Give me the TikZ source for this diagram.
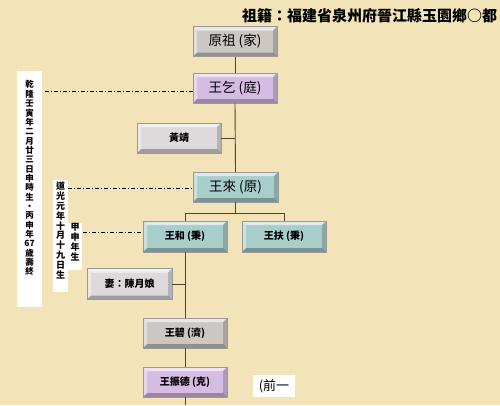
\documentclass[tikz,border=0pt]{standalone}
\usepackage{fontspec}
\newfontfamily\cjk{Noto Sans CJK TC}
\definecolor{bg}{RGB}{242,228,184}
\definecolor{grayface}{RGB}{204,199,194}
\definecolor{lgray}{RGB}{222,218,219}
\definecolor{purp}{RGB}{214,188,226}
\definecolor{tealface}{RGB}{168,206,203}
\definecolor{conn}{RGB}{85,68,45}
\newcommand\bevelpaint{%
  \fill[white,opacity=0.6] (path picture bounding box.north west) -- (path picture bounding box.north east)
    -- ([shift={(-4pt,-4pt)}]path picture bounding box.north east) -- ([shift={(4pt,-4pt)}]path picture bounding box.north west) -- cycle;
  \fill[white,opacity=0.4] (path picture bounding box.north west) -- ([shift={(4pt,-4pt)}]path picture bounding box.north west)
    -- ([shift={(4pt,4pt)}]path picture bounding box.south west) -- (path picture bounding box.south west) -- cycle;
  \fill[black,opacity=0.28] (path picture bounding box.south west) -- ([shift={(4pt,4pt)}]path picture bounding box.south west)
    -- ([shift={(-4pt,4pt)}]path picture bounding box.south east) -- (path picture bounding box.south east) -- cycle;
  \fill[black,opacity=0.18] (path picture bounding box.south east) -- ([shift={(-4pt,4pt)}]path picture bounding box.south east)
    -- ([shift={(-4pt,-4pt)}]path picture bounding box.north east) -- (path picture bounding box.north east) -- cycle;
}
\tikzset{
  bev/.style={rectangle, fill=#1, draw=black!40, line width=0.5pt, minimum width=84pt, minimum height=30pt,
    inner sep=0pt, path picture={\bevelpaint}},
  bigtxt/.style={font=\cjk\fontsize{13.5}{15}\selectfont},
  smalltxt/.style={font=\cjk\bfseries\fontsize{10}{12}\selectfont},
  conline/.style={draw=conn, line width=0.9pt},
  dd/.style={draw=black, line width=0.8pt, dash pattern=on 4pt off 2pt on 1pt off 2pt},
  whitecol/.style={rectangle, fill=white, draw=none, inner sep=0pt},
  vtext/.style={align=center, inner sep=0pt, anchor=north, font=\cjk\bfseries\fontsize{#1}{#1}\selectfont},
}
\begin{document}
\begin{tikzpicture}[x=1pt,y=-1pt]
\useasboundingbox[fill=bg] (0,0) rectangle (500,405);

% title
\node[font=\cjk\bfseries\fontsize{15}{16}\selectfont, inner sep=0pt] (title) at (369.5,16) {祖籍：福建省泉州府晉江縣玉園鄉○都};

% boxes
\node[bev=grayface, bigtxt] (yz) at (235,41.5) {原祖 (家)};
\node[bev=purp, bigtxt] (wq) at (235,88) {王乞 (庭)};
\node[bev=lgray, smalltxt] (hj) at (179,138) {黃靖};
\node[bev=tealface, bigtxt, minimum width=85pt] (wl) at (235.5,187) {王來 (原)};
\node[bev=tealface, smalltxt, minimum height=31pt] (wh) at (185,236.5) {王和 (秉)};
\node[bev=tealface, smalltxt, minimum height=31pt] (wf) at (284,236.5) {王扶 (秉)};
\node[bev=lgray, smalltxt, minimum width=85pt, minimum height=31pt] (qi) at (129.5,284) {妻：陳月娘};
\node[bev=grayface, smalltxt] (wb) at (185,333) {王碧 (濟)};
\node[bev=purp, smalltxt] (wz) at (185,382) {王振德 (克)};

% "(前一" label
\node[rectangle, fill=white, minimum width=42pt, minimum height=22pt, inner sep=0pt,
      font=\cjk\fontsize{13}{15}\selectfont] (qy) at (274,386) {(前一};

% connectors
\coordinate (bottomend) at (185,405);
\draw[conline] (yz.south) -- (wq.north);
\draw[conline] (wq.south) -- (wl.north);
\draw[conline] (hj.east) -- (hj.east -| wq.south);
\draw[conline] (wl.south) -- ++(0,11) -| (wh.north);
\draw[conline] (wl.south) -- ++(0,11) -| (wf.north);
\draw[conline] (wh.south) -- (wb.north);
\draw[conline] (wb.south) -- (wz.north);
\draw[conline] (wz.south) -- (bottomend);
\draw[conline] (qi.east) -- (qi.east -| wh.south);

% vertical text columns
\node[whitecol, minimum width=25pt, minimum height=236pt] (c1) at (29.5,189) {};
\node[vtext=8.5, font=\cjk\bfseries\fontsize{8.5}{9.35}\selectfont] (t1) at (29.5,80.5)
  {乾\\隆\\壬\\寅\\年\\二\\月\\廿\\三\\日\\申\\時\\生\\・\\丙\\申\\年\\67\\歲\\壽\\終};
\node[whitecol, minimum width=15pt, minimum height=112pt] (c2) at (60.5,236) {};
\node[vtext=9, font=\cjk\bfseries\fontsize{9}{9.9}\selectfont] (t2) at (60.5,181.5)
  {道\\光\\元\\年\\十\\月\\十\\九\\日\\生};
\node[whitecol, minimum width=14pt, minimum height=47pt] (c3) at (75,246.5) {};
\node[vtext=9, font=\cjk\bfseries\fontsize{9}{10}\selectfont] (t3) at (75,223.5)
  {甲\\申\\年\\生};

% dash-dot leaders
\coordinate (d1) at (45,91);
\coordinate (d2) at (68,188);
\coordinate (d3) at (83,232);
\draw[dd] (d1) -- (d1 -| wq.west);
\draw[dd] (d2) -- (d2 -| wl.west);
\draw[dd] (d3) -- (d3 -| wh.west);
\end{tikzpicture}
\end{document}
